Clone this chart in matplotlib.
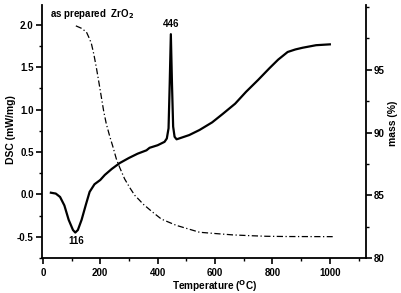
import matplotlib
matplotlib.use("Agg")
import matplotlib.pyplot as plt
from matplotlib.ticker import MultipleLocator

plt.rcParams['font.family'] = ['Liberation Sans', 'DejaVu Sans']
plt.rcParams['font.weight'] = 'bold'

# DSC curve (mW/mg)
dsc_T = [28, 45, 60, 75, 90, 105, 113, 122, 135, 150, 163, 180, 200, 216, 240, 268, 300, 330,
         361, 372, 400, 424, 432, 438, 442, 446, 450, 454, 459, 466, 475, 510, 546, 590, 627,
         670, 708, 750, 790, 820, 853, 880, 905, 952, 1000]
dsc_v = [0.02, 0.01, -0.03, -0.13, -0.30, -0.42, -0.45, -0.42, -0.30, -0.12, 0.03, 0.12, 0.17,
         0.23, 0.30, 0.37, 0.43, 0.48, 0.52, 0.55, 0.58, 0.62, 0.66, 0.78, 1.3, 1.89, 1.3, 0.8,
         0.68, 0.65, 0.66, 0.70, 0.76, 0.85, 0.95, 1.07, 1.21, 1.35, 1.49, 1.59, 1.68, 1.71,
         1.73, 1.76, 1.77]

# mass curve (%)
mass_T = [115, 135, 152, 160, 169, 178, 187, 196, 204, 212, 221, 233, 245, 256, 268, 285, 303,
          320, 337, 349, 380, 413, 465, 546, 600, 662, 720, 778, 850, 1010]
mass_v = [98.5, 98.3, 98.0, 97.6, 97.1, 96.2, 95.1, 93.9, 92.8, 91.7, 90.7, 89.7, 88.8, 87.9,
          87.2, 86.3, 85.6, 85.0, 84.6, 84.3, 83.7, 83.1, 82.6, 82.05, 81.95, 81.84, 81.78,
          81.73, 81.71, 81.7]

x_ticks = [0, 200, 400, 600, 800, 1000]
left_ticks = [-0.5, 0.0, 0.5, 1.0, 1.5, 2.0]
right_ticks = [80, 85, 90, 95]

fig = plt.figure(figsize=(4.01, 2.93), dpi=100)
ax = fig.add_axes([0.1047, 0.1195, 0.8073, 0.8651])
ax2 = ax.twinx()

ax.plot(dsc_T, dsc_v, color='black', lw=1.6)
ax2.plot(mass_T, mass_v, color='black', lw=0.9, ls=(0, (5, 2, 1, 2)))

ax.set_xlim(-3, 1125)
ax.set_ylim(-0.75, 2.24)
ax2.set_ylim(80, 100.2)

ax.set_xticks(x_ticks)
ax.set_yticks(left_ticks)
ax.set_yticklabels(['-0.5', '0.0', '0.5', '1.0', '1.5', '2.0'])
ax2.set_yticks(right_ticks)
ax.xaxis.set_minor_locator(MultipleLocator(100))
ax.yaxis.set_minor_locator(MultipleLocator(0.25))
ax2.yaxis.set_minor_locator(MultipleLocator(2.5))

for a in (ax, ax2):
    a.spines['top'].set_visible(False)
    for s in a.spines.values():
        s.set_linewidth(1.3)
    a.tick_params(which='major', direction='out', length=4, width=1.2, labelsize=7, pad=2)
    a.tick_params(which='minor', direction='out', length=2.5, width=1.0)
ax2.spines['left'].set_visible(False)
ax2.spines['bottom'].set_visible(False)
ax.spines['right'].set_visible(False)
ax.tick_params(axis='x', pad=3.5)

ax.set_xlabel('Temperature ($^{\\mathbf{O}}$C)', fontsize=7.2, fontweight='bold')
ax.xaxis.set_label_coords(0.534, -0.078)
ax.set_ylabel('DSC (mW/mg)', fontsize=7.5, fontweight='bold')
ax.yaxis.set_label_coords(-0.08, 0.505)
ax2.set_ylabel('mass (%)', fontsize=7.5, fontweight='bold')
ax2.yaxis.set_label_coords(1.069, 0.53)

ax.text(25, 2.13, 'as prepared  ZrO$_\\mathbf{2}$', fontsize=7, fontweight='bold', va='center')
ax.text(447, 2.01, '446', fontsize=7, fontweight='bold', ha='center', va='center')
ax.text(116, -0.545, '116', fontsize=7, fontweight='bold', ha='center', va='center')

fig.savefig('out.png', dpi=100)
